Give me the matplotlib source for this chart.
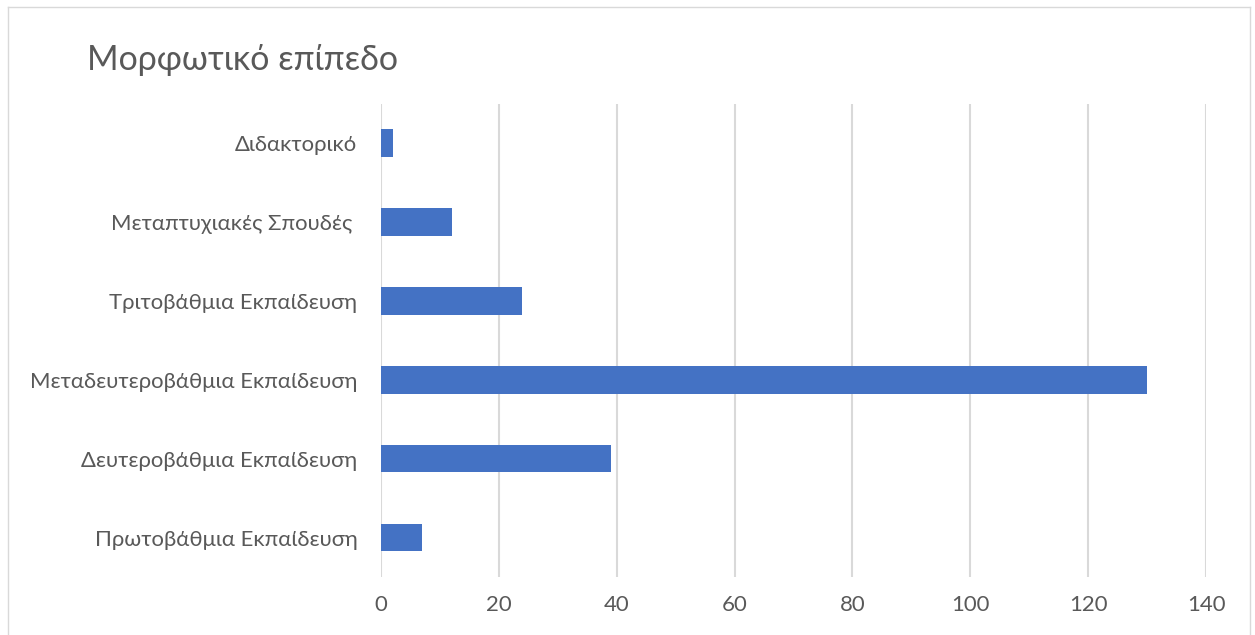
import matplotlib
matplotlib.use("Agg")
import matplotlib.pyplot as plt
from matplotlib.lines import Line2D

# data, bottom to top as drawn
categories = ["Πρωτοβάθμια Εκπαίδευση",
              "Δευτεροβάθμια Εκπαίδευση",
              "Μεταδευτεροβάθμια Εκπαίδευση",
              "Τριτοβάθμια Εκπαίδευση",
              "Μεταπτυχιακές Σπουδές ",
              "Διδακτορικό"]
counts = [7, 39, 130, 24, 12, 2]
xticks = [0, 20, 40, 60, 80, 100, 120, 140]

plt.rcParams['font.family'] = ['Lato', 'DejaVu Sans']

fig = plt.figure(figsize=(12.55, 6.35), dpi=100)
ax = fig.add_axes([0.3036, 0.0913, 0.6574, 0.7457])

ax.barh(range(len(categories)), counts, height=0.35, color='#4472C4', zorder=3)

ax.set_xlim(0, 140)
ax.set_ylim(-0.5, len(categories) - 0.5)
ax.set_xticks(xticks)
ax.set_yticks(range(len(categories)))
ax.set_yticklabels(categories)
ax.grid(axis='x', color='#D9D9D9', linewidth=1.5, zorder=0)
for s in ax.spines.values():
    s.set_visible(False)
ax.tick_params(axis='both', length=0, labelsize=15.9, colors='#595959')
ax.tick_params(axis='x', pad=13)
ax.tick_params(axis='y', pad=17)

fig.text(0.069, 0.905, "Μορφωτικό επίπεδο", fontsize=24.5, color='#595959', va='center')

# chart frame
fx0, fx1, fy1 = 8 / 1255, 1250 / 1255, 1 - 7 / 635
for xs, ys in [([fx0, fx0], [0, fy1]), ([fx0, fx1], [fy1, fy1]), ([fx1, fx1], [fy1, 0])]:
    fig.add_artist(Line2D(xs, ys, color='#D9D9D9', linewidth=1, transform=fig.transFigure))

fig.savefig("out.png", dpi=100)
